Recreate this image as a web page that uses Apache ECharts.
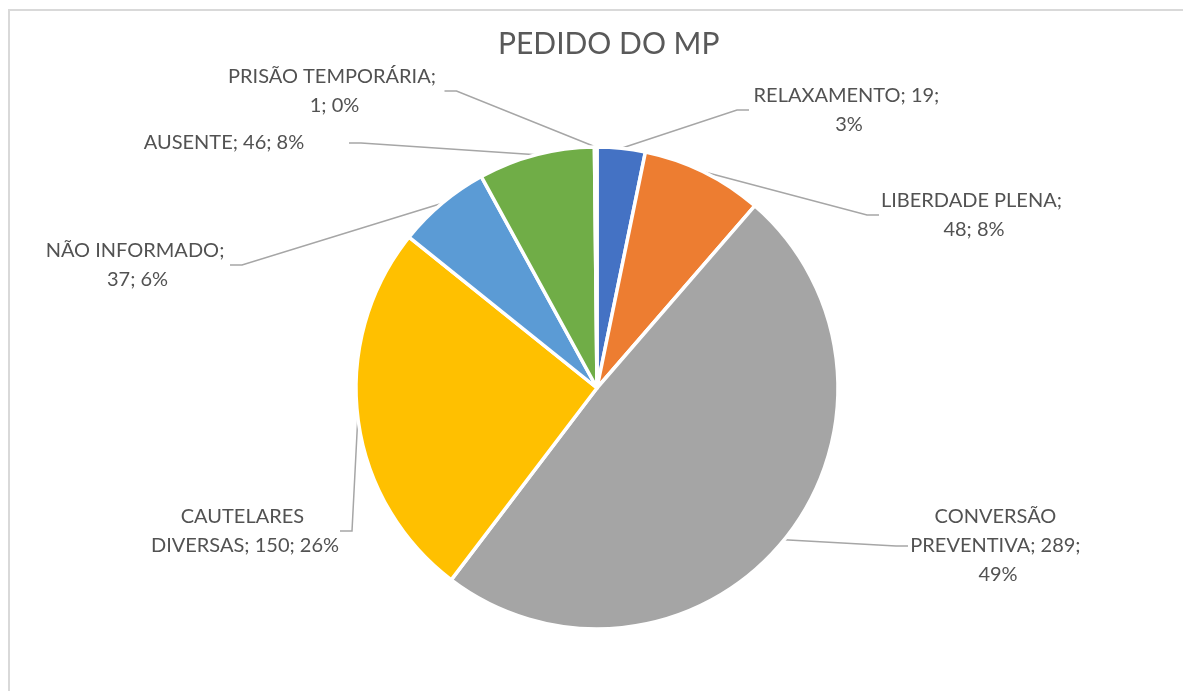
<!DOCTYPE html>
<html>
<head>
<meta charset="utf-8">
<script src="https://cdn.jsdelivr.net/npm/echarts@6/dist/echarts.min.js"></script>
<style>
  html, body { margin: 0; padding: 0; background: #ffffff; }
  #chart { width: 1183px; height: 691px; }
</style>
</head>
<body>
<div id="chart"></div>
<script>
// Pedidos do MP por tipo (contagem de casos)
const categories = [
  'RELAXAMENTO',
  'LIBERDADE PLENA',
  'CONVERSÃO PREVENTIVA',
  'CAUTELARES DIVERSAS',
  'NÃO INFORMADO',
  'AUSENTE',
  'PRISÃO TEMPORÁRIA'
];
const values = [19, 48, 289, 150, 37, 46, 1];
const sliceColors = ['#4472C4', '#ED7D31', '#A5A5A5', '#FFC000', '#5B9BD5', '#70AD47', '#264478'];

// Label placement (block centre, px) and wrap width for each slice label
const labelSpots = [
  [849, 110], [974, 215], [998, 546], [245, 531], [135, 265], [224, 143], [332, 91]
];
const wrapWidths = [200, 190, 180, 190, 190, 250, 225];

const chart = echarts.init(document.getElementById('chart'), null, { renderer: 'canvas' });

const FONT = 'Lato, "Open Sans", sans-serif';

chart.setOption({
  backgroundColor: '#ffffff',
  animation: false,
  title: {
    text: 'PEDIDO DO MP',
    left: 493,
    top: 24,
    textStyle: { fontFamily: FONT, fontSize: 30, fontWeight: 'normal', color: '#595959' }
  },
  graphic: [{
    type: 'rect',
    shape: { x: 9, y: 10, width: 1400, height: 900 },
    style: { fill: 'none', stroke: '#D9D9D9', lineWidth: 2 },
    silent: true,
    z: -1
  }],
  series: [{
    type: 'pie',
    center: [597, 388],
    radius: [0, 241],
    startAngle: 90,
    clockwise: true,
    percentPrecision: 0,
    avoidLabelOverlap: false,
    itemStyle: { borderColor: '#ffffff', borderWidth: 3.5 },
    label: {
      show: true,
      position: 'outside',
      fontFamily: FONT,
      fontSize: 20,
      lineHeight: 29,
      color: '#525252',
      align: 'center',
      overflow: 'break',
      formatter: p => p.name + '; ' + p.value + '; ' + p.percent + '%'
    },
    labelLine: {
      show: true,
      length: 10,
      length2: 12,
      lineStyle: { color: '#A6A6A6', width: 1.5 }
    },
    labelLayout: params => ({
      x: labelSpots[params.dataIndex][0],
      y: labelSpots[params.dataIndex][1],
      align: 'center',
      verticalAlign: 'middle'
    }),
    data: categories.map((name, i) => ({
      name: name,
      value: values[i],
      itemStyle: { color: sliceColors[i] },
      label: { width: wrapWidths[i] }
    }))
  }]
});
</script>
</body>
</html>
